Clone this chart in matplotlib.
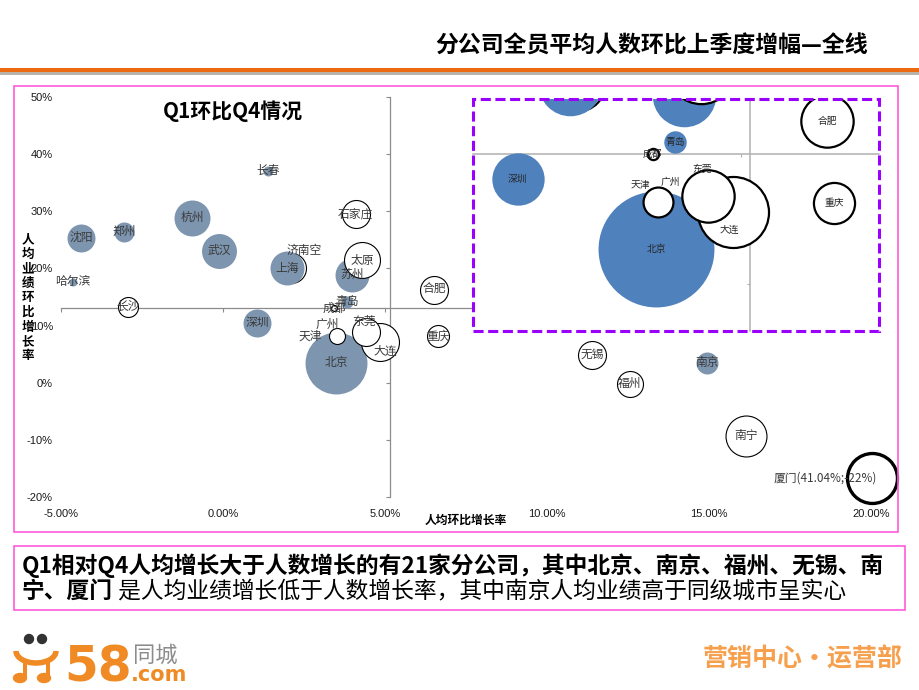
import matplotlib
matplotlib.use('Agg')
import matplotlib.pyplot as plt
from matplotlib.patches import Rectangle, Circle, Arc, Ellipse
from matplotlib.transforms import Affine2D

plt.rcParams['font.family'] = ['Noto Sans CJK SC', 'DejaVu Sans']

# 分公司：人数环比增长率(%) / 人均业绩环比增长率(%) / 气泡大小 / 是否实心
cities = ['沈阳', '郑州', '哈尔滨', '长沙', '杭州', '武汉', '长春', '济南空', '上海', '深圳',
          '石家庄', '苏州', '太原', '青岛', '成都', '北京', '大连', '东莞', '广州', '天津',
          '合肥', '重庆', '无锡', '福州', '南京', '南宁', '厦门']
x_growth = [-4.38, -3.06, -4.63, -2.93, -0.96, -0.12, 1.39, 2.10, 1.98, 1.05,
            4.10, 3.98, 4.29, 3.83, 3.43, 3.50, 4.85, 4.41, 3.55, 3.52,
            6.51, 6.64, 11.39, 12.56, 14.94, 16.14, 20.03]
y_growth = [25.4, 26.4, 17.7, 13.3, 28.9, 23.1, 37.1, 20.1, 20.0, 10.5,
            29.6, 18.9, 21.4, 14.2, 13.0, 3.5, 7.2, 8.8, 8.6, 8.2,
            16.3, 8.1, 4.9, -0.2, 3.5, -9.3, -16.6]
bubble = [196, 100, 16, 100, 324, 306, 25, 225, 289, 196,
          196, 289, 324, 36, 9, 961, 361, 196, 16, 64,
          196, 121, 196, 169, 121, 420, 625]
solid = [1, 1, 1, 0, 1, 1, 1, 0, 1, 1,
         0, 1, 0, 1, 0, 1, 0, 0, 0, 0,
         0, 0, 0, 0, 1, 0, 0]
label_text = {'厦门': '厦门(41.04%;-22%)'}

x_ticks = [-5, 0, 5, 10, 15, 20]
y_ticks = [-20, -10, 0, 10, 20, 30, 40, 50]
x_cross, y_cross = 5.15, 13

# label offsets in points (main chart / zoom box)
main_off = {'济南空': (9.4, 12.2), '广州': (-8, 6.5), '天津': (-19.4, 0),
            '东莞': (-1.4, 7.9), '大连': (3.6, -7.2), '厦门': (3.6, 0)}
zoom_off = {'天津': (-12.2, 12.2), '广州': (7.9, 11.5), '东莞': (-4.3, 19.4),
            '大连': (-2.9, -13)}
thick = {'厦门': 2.4}
zoom_x, zoom_y = (0.26, 7.43), (-4.7, 18.5)

W, H = 920, 690
fig = plt.figure(figsize=(9.2, 6.9), dpi=100)
pxT = Affine2D().scale(1 / W, -1 / H).translate(0, 1) + fig.transFigure


def rect(x0, y0, x1, y1):
    return [x0 / W, 1 - y1 / H, (x1 - x0) / W, (y1 - y0) / H]


# header
fig.text(868, 46, '分公司全员平均人数环比上季度增幅—全线', transform=pxT, ha='right',
         va='center', fontsize=16.5, fontweight='bold', color='black')
fig.patches.append(Rectangle((0, 67.5), W, 4.5, transform=pxT, color='#EC6A10', lw=0))
fig.patches.append(Rectangle((0, 72), W, 3, transform=pxT, color='#B9B2AA', lw=0))

# pink frames
fig.patches.append(Rectangle((14, 86), 884, 446, transform=pxT, fill=False,
                             ec='#FF5BDC', lw=1.2))
fig.patches.append(Rectangle((14, 546), 891, 64, transform=pxT, fill=False,
                             ec='#FF5BDC', lw=1.2))

# ---- main chart
ax_lab = fig.add_axes(rect(61, 97, 871, 497))
ax = fig.add_axes(rect(61, 97, 871, 497))
for a in (ax, ax_lab):
    a.set_xticks(x_ticks)
    a.set_yticks(y_ticks)
    a.set_xlim(-5, 20)
    a.set_ylim(-20, 50)
    a.patch.set_visible(False)

for s in ax_lab.spines.values():
    s.set_visible(False)
ax_lab.tick_params(length=0, labelsize=8, labelcolor='#1A1A1A')
ax_lab.tick_params(axis='y', pad=5.8)
ax_lab.tick_params(axis='x', pad=8.5)
ax_lab.set_xticklabels(['%.2f%%' % v for v in x_ticks], family='Liberation Sans')
ax_lab.set_yticklabels(['%d%%' % v for v in y_ticks], family='Liberation Sans')

ax.spines['top'].set_visible(False)
ax.spines['right'].set_visible(False)
ax.spines['left'].set_position(('data', x_cross))
ax.spines['bottom'].set_position(('data', y_cross))
for s in ('left', 'bottom'):
    ax.spines[s].set_color('#8C8C8C')
    ax.spines[s].set_linewidth(0.9)
ax.tick_params(direction='out', length=3, width=0.8, color='#8C8C8C',
               labelleft=False, labelbottom=False)

for name, x, y, b, f in zip(cities, x_growth, y_growth, bubble, solid):
    if f:
        ax.scatter(x, y, s=b * 2.07, color='#7D95AE', lw=0, clip_on=False, zorder=3)
    else:
        ax.scatter(x, y, s=b * 2.07, facecolor='white', edgecolor='black',
                   lw=thick.get(name, 0.8), clip_on=False, zorder=3)
for name, x, y in zip(cities, x_growth, y_growth):
    off = main_off.get(name, (0, 0))
    ha = 'right' if name == '厦门' else 'center'
    ax.annotate(label_text.get(name, name), (x, y), xytext=off, textcoords='offset points',
                ha=ha, va='center', fontsize=8.5, color='#3A3A3A', zorder=5,
                annotation_clip=False)

ax.text(163, 111, 'Q1环比Q4情况', transform=pxT, ha='left', va='center',
        fontsize=15, fontweight='bold', color='black')
fig.text(466, 520, '人均环比增长率', transform=pxT, ha='center', va='center',
         fontsize=8.5, fontweight='bold')
fig.text(28, 298, '\n'.join('人均业绩环比增长率'), transform=pxT, ha='center',
         va='center', fontsize=9, fontweight='bold', linespacing=1.15)

# ---- zoom box (enlarged view around the axis crossing)
axz = fig.add_axes(rect(473, 99, 879, 331))
axz.set_xticks(x_ticks)
axz.set_yticks(y_ticks)
axz.set_xlim(*zoom_x)
axz.set_ylim(*zoom_y)
axz.spines['top'].set_visible(False)
axz.spines['right'].set_visible(False)
axz.spines['left'].set_position(('data', x_cross))
axz.spines['bottom'].set_position(('data', y_cross))
for s in ('left', 'bottom'):
    axz.spines[s].set_color('#B0B0B0')
    axz.spines[s].set_linewidth(1.1)
axz.tick_params(direction='out', length=2, width=0.8, color='#B0B0B0',
                labelleft=False, labelbottom=False)

for name, x, y, b, f in zip(cities, x_growth, y_growth, bubble, solid):
    if f:
        axz.scatter(x, y, s=b * 2.07 * 3.5, color='#4F81BD', lw=0, zorder=3)
    else:
        axz.scatter(x, y, s=b * 2.07 * 3.5, facecolor='white', edgecolor='black',
                    lw=1.6, zorder=3)
for name, x, y in zip(cities, x_growth, y_growth):
    if not (zoom_x[0] <= x <= zoom_x[1] and zoom_y[0] <= y <= zoom_y[1] + 0.5):
        continue
    t = axz.annotate(name, (x, y), xytext=zoom_off.get(name, (0, 0)),
                     textcoords='offset points', ha='center', va='center',
                     fontsize=7, color='#262626', zorder=5, annotation_clip=False)
    t.set_clip_on(True)
    t.set_clip_box(axz.bbox)

axz.add_patch(Rectangle((0, 0), 1, 1, transform=axz.transAxes, fill=False,
                        ec='#9B00FF', lw=2.2, ls=(0, (3.3, 1.5)), clip_on=False, zorder=10))

# ---- bottom text
fig.text(22, 566, 'Q1相对Q4人均增长大于人数增长的有21家分公司，其中北京、南京、福州、无锡、南',
         transform=pxT, ha='left', va='center', fontsize=16.4, fontweight='bold')
t2 = fig.text(22, 591, '宁、厦门', transform=pxT, ha='left', va='center',
              fontsize=16.4, fontweight='bold')
ax.annotate(' 是人均业绩增长低于人数增长率，其中南京人均业绩高于同级城市呈实心',
            xy=(1, 0.5), xycoords=t2, ha='left', va='center', fontsize=16.4,
            annotation_clip=False)

# ---- logo
orange = '#F08A24'
fig.patches.append(Circle((29, 639), 4.5, transform=pxT, color='#333333'))
fig.patches.append(Circle((42, 639), 4.5, transform=pxT, color='#333333'))
fig.patches.append(Arc((36, 651), 40, 24, theta1=0, theta2=180, transform=pxT,
                       color=orange, lw=4))
fig.patches.append(Rectangle((23, 660), 4, 17, transform=pxT, color=orange, lw=0))
fig.patches.append(Rectangle((46, 660), 4, 17, transform=pxT, color=orange, lw=0))
fig.patches.append(Ellipse((20, 678), 13, 9, transform=pxT, color=orange))
fig.patches.append(Ellipse((44, 678), 13, 9, transform=pxT, color=orange))
fig.text(64, 681, '58', transform=pxT, ha='left', va='baseline', fontsize=35,
         fontweight='bold', color=orange, family='DejaVu Sans')
fig.text(133, 655, '同城', transform=pxT, ha='left', va='center', fontsize=16,
         color='#8C8C8C')
fig.text(131, 681, '.com', transform=pxT, ha='left', va='baseline', fontsize=15,
         fontweight='bold', color=orange, family='DejaVu Sans')
fig.text(903, 659, '营销中心·运营部', transform=pxT, ha='right', va='center',
         fontsize=18, fontweight='bold', color='#F6A04D')

fig.savefig('out.png', dpi=100)
